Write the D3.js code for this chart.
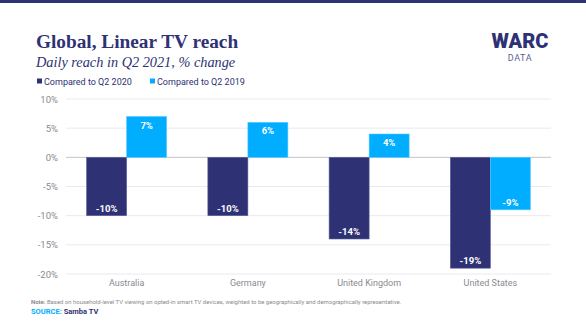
<!DOCTYPE html>
<html>
<head>
<meta charset="utf-8">
<script src="https://cdn.jsdelivr.net/npm/d3@7"></script>
<style>
  body { margin: 0; background: #fff; }
  svg { display: block; }
</style>
</head>
<body>
<div id="chart"></div>
<script>
const countries = ["Australia", "Germany", "United Kingdom", "United States"];
const seriesNames = ["Compared to Q2 2020", "Compared to Q2 2019"];
const vs2020 = [-10, -10, -14, -19];
const vs2019 = [7, 6, 4, -9];
const yTicks = [10, 5, 0, -5, -10, -15, -20];

const width = 586, height = 330;
const navy = "#2e3274", cyan = "#00adfe";
const colors = [navy, cyan];
const sans = "Roboto, sans-serif";

const svg = d3.select("#chart").append("svg")
  .attr("width", width)
  .attr("height", height);

// top band
svg.append("rect").attr("x", 0).attr("y", 0).attr("width", width).attr("height", 3).attr("fill", navy);

// titles
svg.append("text")
  .attr("x", 36).attr("y", 48)
  .attr("font-family", "Liberation Serif, serif")
  .attr("font-weight", "bold")
  .attr("font-size", 19.3)
  .attr("fill", navy)
  .text("Global, Linear TV reach");

svg.append("text")
  .attr("x", 36).attr("y", 67)
  .attr("font-family", "Liberation Serif, serif")
  .attr("font-style", "italic")
  .attr("font-size", 14.3)
  .attr("fill", navy)
  .text("Daily reach in Q2 2021, % change");

// logo
svg.append("text")
  .attr("x", 520).attr("y", 48)
  .attr("text-anchor", "middle")
  .attr("font-family", sans)
  .attr("font-weight", "900")
  .attr("font-size", 20)
  .attr("fill", navy)
  .text("WARC");
svg.append("text")
  .attr("x", 520).attr("y", 61)
  .attr("text-anchor", "middle")
  .attr("font-family", sans)
  .attr("font-size", 9)
  .attr("letter-spacing", 0.6)
  .attr("fill", "#5b5f94")
  .text("DATA");

// legend
const legend = svg.append("g").attr("font-family", sans).attr("font-size", 9);
const legendX = [37, 150];
seriesNames.forEach((name, i) => {
  legend.append("rect")
    .attr("x", legendX[i]).attr("y", 78.5)
    .attr("width", 5).attr("height", 5)
    .attr("fill", colors[i]);
  legend.append("text")
    .attr("x", legendX[i] + 7).attr("y", 84.5)
    .attr("fill", navy)
    .text(name);
});

// scales
const x0 = d3.scaleBand()
  .domain(countries)
  .range([66, 551])
  .paddingInner(0.34)
  .paddingOuter(0.17);

const x1 = d3.scaleBand()
  .domain(seriesNames)
  .range([0, x0.bandwidth()]);

const y = d3.scaleLinear()
  .domain([-20, 10])
  .range([274, 99]);

// grid
const grid = svg.append("g");
grid.selectAll("line")
  .data(yTicks)
  .join("line")
  .attr("x1", 66).attr("x2", 551)
  .attr("y1", d => y(d)).attr("y2", d => y(d))
  .attr("stroke", d => d === 0 ? "#c4c4c8" : "#e9e9f2")
  .attr("stroke-width", 1);

// y axis labels
const yAxis = svg.append("g")
  .attr("transform", "translate(58,0)")
  .call(d3.axisLeft(y).tickValues(yTicks).tickSize(0).tickPadding(0).tickFormat(d => d + "%"));
yAxis.select(".domain").remove();
yAxis.selectAll("text")
  .attr("font-family", sans)
  .attr("font-size", 9.5)
  .attr("fill", "#8a8a8e");

// x axis labels
const xAxis = svg.append("g")
  .attr("transform", "translate(0,280)")
  .call(d3.axisBottom(x0).tickSize(0).tickPadding(0));
xAxis.select(".domain").remove();
xAxis.selectAll("text")
  .attr("font-family", sans)
  .attr("font-size", 9)
  .attr("fill", "#8a8a8e");

// bars
const rows = countries.map((c, i) => ({ country: c, values: [vs2020[i], vs2019[i]] }));

const groups = svg.append("g")
  .selectAll("g")
  .data(rows)
  .join("g")
  .attr("transform", d => `translate(${x0(d.country)},0)`);

const cells = groups.selectAll("g")
  .data(d => d.values.map((v, i) => ({ series: seriesNames[i], value: v, idx: i })))
  .join("g");

cells.append("rect")
  .attr("x", d => x1(d.series))
  .attr("y", d => y(Math.max(0, d.value)))
  .attr("width", x1.bandwidth())
  .attr("height", d => Math.abs(y(d.value) - y(0)))
  .attr("fill", d => colors[d.idx])
  .attr("stroke", d => d.idx === 0 ? "#5a5e9a" : "#5cc9ff")
  .attr("stroke-width", 0.6);

cells.append("text")
  .attr("x", d => x1(d.series) + x1.bandwidth() / 2)
  .attr("y", d => d.value >= 0 ? y(d.value) + 12 : y(d.value) - 4)
  .attr("text-anchor", "middle")
  .attr("font-family", sans)
  .attr("font-weight", "bold")
  .attr("font-size", 9.5)
  .attr("fill", "#fff")
  .text(d => d.value + "%");

// footnote
const note = svg.append("text")
  .attr("x", 31).attr("y", 304)
  .attr("font-family", sans)
  .attr("font-size", 5.95)
  .attr("fill", "#8a8a8e");
note.append("tspan").attr("font-weight", "bold").text("Note:");
note.append("tspan").text(" Based on household-level  TV viewing on opted-in  smart TV devices, weighted to be geographically and demographically representative.");

const src = svg.append("text")
  .attr("x", 31).attr("y", 314)
  .attr("font-family", sans)
  .attr("font-size", 7.5)
  .attr("font-weight", "bold");
src.append("tspan").attr("fill", cyan).text("SOURCE:");
src.append("tspan").attr("fill", navy).text(" Samba TV");
</script>
</body>
</html>
